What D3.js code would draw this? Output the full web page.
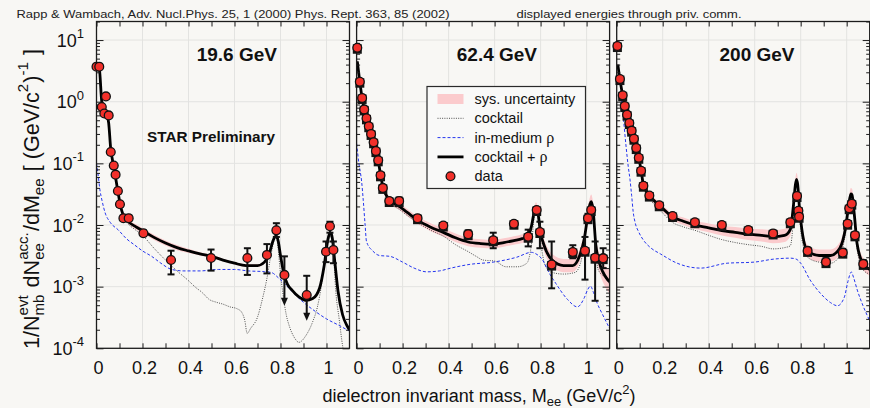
<!DOCTYPE html>
<html>
<head>
<meta charset="utf-8">
<script src="https://cdn.jsdelivr.net/npm/d3@7"></script>
<style>
  body { margin: 0; background: #f8f7f4; }
  svg { display: block; }
</style>
</head>
<body>
<svg id="chart" width="870" height="408"></svg>
<script>
// ---------------- data ----------------
const energyLabels = ["19.6 GeV", "62.4 GeV", "200 GeV"];
const xTickValues = [0, 0.2, 0.4, 0.6, 0.8, 1];
const yDecades = [1e-4, 1e-3, 1e-2, 1e-1, 1e0, 1e1];
const yDecadeExps = ["-4", "-3", "-2", "-1", "0", "1"];

// 19.6 GeV measured points (GeV/c^2, yield, stat. high, stat. low, upper-limit flag)
const mass19  = [0, 0.012, 0.023, 0.034, 0.041, 0.053, 0.062, 0.075, 0.083, 0.093, 0.102, 0.117, 0.14, 0.204, 0.324, 0.498, 0.656, 0.741, 0.782, 0.817, 0.914, 0.998, 1.015, 1.03];
const yield19 = [3.7, 3.7, 0.82, 0.645, 1.22, 0.6, 0.153, 0.092, 0.0655, 0.0356, 0.0217, 0.0129, 0.0129, 0.00734, 0.00271, 0.00292, 0.00292, 0.00327, 0.0082, 0.00155, 0.00073, 0.00369, 0.00953, 0.00394];
const hi19    = [3.95, 3.95, 0.88, 0.69, 1.31, 0.64, 0.165, 0.099, 0.071, 0.039, 0.0237, 0.0141, 0.0141, 0.0082, 0.00383, 0.004, 0.0042, 0.0049, 0.0107, 0.0031, 0.0015, 0.0054, 0.0113, 0.0054];
const lo19    = [3.45, 3.45, 0.76, 0.6, 1.13, 0.56, 0.141, 0.085, 0.06, 0.0326, 0.0197, 0.0117, 0.0117, 0.0066, 0.00158, 0.00182, 0.00155, 0.00164, 0.0064, 0.00049, 0.00028, 0.0025, 0.0075, 0.0024];
const limit19 = [0,0,0,0,0,0,0,0,0,0,0,0,0,0,0,0,0,0,0,1,1,0,0,0];

// 19.6 GeV model curves
const sum19Mass = [0, 0.012, 0.023, 0.034, 0.045, 0.053, 0.062, 0.07, 0.08, 0.09, 0.1, 0.11, 0.12, 0.14, 0.17, 0.2, 0.25, 0.3, 0.35, 0.4, 0.45, 0.5, 0.55, 0.6, 0.65, 0.7, 0.73, 0.75, 0.765, 0.775, 0.782, 0.79, 0.8, 0.815, 0.83, 0.85, 0.88, 0.91, 0.94, 0.97, 0.99, 1.005, 1.015, 1.02, 1.025, 1.035, 1.05, 1.07, 1.09, 1.1];
const sum19     = [3.8, 3.5, 1.0, 0.75, 0.62, 0.45, 0.17, 0.11, 0.068, 0.041, 0.025, 0.017, 0.0135, 0.0112, 0.0094, 0.0081, 0.0063, 0.0051, 0.0043, 0.0038, 0.0034, 0.0031, 0.0027, 0.0024, 0.0022, 0.0022, 0.0025, 0.0033, 0.0052, 0.0064, 0.0066, 0.0055, 0.0032, 0.0016, 0.0011, 0.00088, 0.00068, 0.0006, 0.00064, 0.00095, 0.0022, 0.0055, 0.0075, 0.0074, 0.0062, 0.0028, 0.00085, 0.00035, 0.00023, 0.0002];
const sys19     = [0.05, 0.05, 0.05, 0.05, 0.05, 0.05, 0.05, 0.05, 0.05, 0.05, 0.05, 0.05, 0.06, 0.08, 0.1, 0.1, 0.1, 0.1, 0.1, 0.08, 0.06, 0.05, 0.05, 0.05, 0.05, 0.05, 0.05, 0.05, 0.05, 0.05, 0.05, 0.05, 0.05, 0.05, 0.05, 0.05, 0.05, 0.05, 0.05, 0.05, 0.05, 0.05, 0.05, 0.05, 0.05, 0.05, 0.05, 0.05, 0.05, 0.05];
const cocktail19Mass = [0, 0.012, 0.023, 0.034, 0.045, 0.053, 0.062, 0.07, 0.08, 0.09, 0.1, 0.11, 0.12, 0.14, 0.17, 0.2, 0.25, 0.3, 0.35, 0.4, 0.43, 0.46, 0.49, 0.52, 0.55, 0.58, 0.61, 0.63, 0.645, 0.655, 0.67, 0.7, 0.72, 0.74, 0.76, 0.775, 0.782, 0.79, 0.8, 0.81, 0.825, 0.84, 0.86, 0.88, 0.91, 0.94, 0.96, 0.98, 0.99, 1.005, 1.015, 1.02, 1.03, 1.04, 1.055, 1.07, 1.085];
const cocktail19     = [3.8, 3.5, 1.0, 0.75, 0.62, 0.45, 0.17, 0.11, 0.068, 0.041, 0.025, 0.016, 0.0125, 0.0102, 0.0083, 0.0068, 0.0042, 0.0027, 0.0018, 0.00125, 0.00098, 0.0008, 0.00062, 0.00056, 0.00052, 0.00047, 0.00044, 0.00039, 0.00028, 0.000175, 0.00021, 0.00032, 0.0006, 0.0013, 0.0035, 0.006, 0.0063, 0.004, 0.0016, 0.0008, 0.00035, 0.00022, 0.00015, 0.000125, 0.00016, 0.00027, 0.00046, 0.0012, 0.0024, 0.0052, 0.0065, 0.0064, 0.0035, 0.00088, 0.0003, 0.00011, 0.00006];
const rho19Mass = [0, 0.006, 0.015, 0.025, 0.037, 0.06, 0.095, 0.13, 0.167, 0.2, 0.24, 0.28, 0.327, 0.38, 0.45, 0.53, 0.6, 0.66, 0.73, 0.76, 0.79, 0.83, 0.89, 0.95, 1.0, 1.05, 1.1];
const rho19     = [0.1, 0.07, 0.037, 0.024, 0.016, 0.011, 0.0083, 0.006, 0.0047, 0.0038, 0.0031, 0.0024, 0.0019, 0.0018, 0.0018, 0.0019, 0.0019, 0.0018, 0.00175, 0.0017, 0.0014, 0.001, 0.0006, 0.0004, 0.0003, 0.00024, 0.00019];

// 62.4 GeV measured points
const mass62  = [0.003, 0.014, 0.024, 0.033, 0.043, 0.053, 0.063, 0.074, 0.084, 0.094, 0.104, 0.114, 0.142, 0.185, 0.265, 0.377, 0.485, 0.594, 0.684, 0.746, 0.783, 0.797, 0.848, 0.94, 0.993, 1.006, 1.02, 1.037, 1.072];
const yield62 = [7.5, 2.11, 1.15, 0.75, 0.537, 0.4, 0.3, 0.22, 0.158, 0.112, 0.064, 0.04, 0.0245, 0.0245, 0.0129, 0.0098, 0.0071, 0.00565, 0.0105, 0.00645, 0.0175, 0.0077, 0.00228, 0.00365, 0.00383, 0.0129, 0.0175, 0.00295, 0.0029];
const hi62    = [8.1, 2.3, 1.25, 0.81, 0.58, 0.43, 0.325, 0.24, 0.171, 0.122, 0.07, 0.044, 0.027, 0.028, 0.0142, 0.0108, 0.0082, 0.0075, 0.0116, 0.0084, 0.0195, 0.0113, 0.0054, 0.0047, 0.0064, 0.0152, 0.0195, 0.0054, 0.0042];
const lo62    = [6.9, 1.94, 1.06, 0.69, 0.495, 0.37, 0.277, 0.2, 0.146, 0.103, 0.059, 0.036, 0.0222, 0.0215, 0.0116, 0.0088, 0.0062, 0.0042, 0.0095, 0.0045, 0.0157, 0.0042, 0.00094, 0.00289, 0.0013, 0.011, 0.0157, 0.00059, 0.002];

// 62.4 GeV model curves
const sum62Mass = [0.003, 0.014, 0.024, 0.033, 0.043, 0.053, 0.063, 0.074, 0.084, 0.094, 0.104, 0.114, 0.13, 0.15, 0.185, 0.22, 0.265, 0.32, 0.377, 0.43, 0.485, 0.54, 0.594, 0.64, 0.684, 0.72, 0.746, 0.76, 0.772, 0.78, 0.788, 0.8, 0.815, 0.85, 0.9, 0.94, 0.97, 0.99, 1.005, 1.015, 1.02, 1.028, 1.04, 1.055, 1.07, 1.085, 1.1];
const sum62     = [4.5, 2.1, 1.15, 0.75, 0.54, 0.4, 0.3, 0.22, 0.158, 0.11, 0.066, 0.042, 0.03, 0.024, 0.02, 0.016, 0.012, 0.0093, 0.0076, 0.0062, 0.0053, 0.005, 0.0049, 0.0052, 0.0056, 0.006, 0.0066, 0.0095, 0.016, 0.0195, 0.016, 0.0075, 0.0047, 0.0027, 0.0022, 0.0022, 0.0032, 0.006, 0.014, 0.022, 0.024, 0.018, 0.0048, 0.0025, 0.00175, 0.0014, 0.0012];
const sys62     = [0.1, 0.1, 0.1, 0.1, 0.1, 0.1, 0.1, 0.1, 0.1, 0.1, 0.1, 0.1, 0.12, 0.12, 0.13, 0.14, 0.15, 0.16, 0.17, 0.17, 0.17, 0.17, 0.17, 0.17, 0.17, 0.18, 0.18, 0.2, 0.2, 0.2, 0.2, 0.22, 0.25, 0.27, 0.28, 0.28, 0.28, 0.3, 0.3, 0.3, 0.3, 0.3, 0.35, 0.4, 0.45, 0.5, 0.55];
const cocktail62Mass = [0.003, 0.014, 0.024, 0.033, 0.043, 0.053, 0.063, 0.074, 0.084, 0.094, 0.104, 0.114, 0.13, 0.15, 0.185, 0.22, 0.265, 0.32, 0.377, 0.43, 0.485, 0.52, 0.55, 0.6, 0.65, 0.7, 0.74, 0.76, 0.772, 0.78, 0.788, 0.8, 0.82, 0.85, 0.9, 0.95, 0.98, 1.0, 1.015, 1.02, 1.03, 1.05, 1.08, 1.1];
const cocktail62     = [4.5, 2.1, 1.15, 0.75, 0.54, 0.4, 0.3, 0.22, 0.158, 0.11, 0.064, 0.04, 0.028, 0.022, 0.018, 0.0143, 0.011, 0.0083, 0.0066, 0.0048, 0.0037, 0.0031, 0.0027, 0.0026, 0.0021, 0.0021, 0.0024, 0.0048, 0.013, 0.018, 0.014, 0.0055, 0.0022, 0.0017, 0.0016, 0.0017, 0.003, 0.01, 0.02, 0.022, 0.012, 0.0019, 0.0014, 0.0011];
const rho62Mass = [0, 0.01, 0.022, 0.029, 0.037, 0.043, 0.07, 0.1, 0.145, 0.2, 0.25, 0.304, 0.36, 0.41, 0.493, 0.594, 0.696, 0.76, 0.78, 0.806, 0.84, 0.866, 0.917, 0.96, 0.99, 1.005, 1.017, 1.03, 1.046, 1.07, 1.1];
const rho62     = [0.21, 0.1, 0.05, 0.025, 0.01, 0.0054, 0.0038, 0.0032, 0.0031, 0.0025, 0.002, 0.00174, 0.0018, 0.002, 0.0023, 0.0025, 0.003, 0.0036, 0.0034, 0.0028, 0.0016, 0.00113, 0.00062, 0.00047, 0.00066, 0.0009, 0.00102, 0.0008, 0.00054, 0.00035, 0.00021];

// 200 GeV measured points
const mass200  = [0.003, 0.014, 0.026, 0.035, 0.045, 0.055, 0.065, 0.075, 0.085, 0.096, 0.106, 0.116, 0.142, 0.185, 0.243, 0.34, 0.457, 0.572, 0.68, 0.755, 0.784, 0.79, 0.793, 0.83, 0.91, 0.983, 1.004, 1.011, 1.022, 1.036, 1.072];
const yield200 = [8.0, 2.33, 1.27, 0.85, 0.616, 0.45, 0.339, 0.251, 0.177, 0.123, 0.076, 0.0434, 0.03, 0.0209, 0.014, 0.0111, 0.01, 0.0083, 0.0073, 0.0111, 0.0295, 0.017, 0.0136, 0.0038, 0.0025, 0.00356, 0.0105, 0.0187, 0.0222, 0.0068, 0.00234];
const hi200    = [8.6, 2.5, 1.36, 0.91, 0.66, 0.48, 0.363, 0.269, 0.19, 0.132, 0.082, 0.047, 0.0325, 0.0226, 0.0152, 0.0121, 0.0109, 0.0091, 0.0081, 0.0123, 0.032, 0.0189, 0.015, 0.0043, 0.0029, 0.0041, 0.0117, 0.0205, 0.0243, 0.0077, 0.0027];
const lo200    = [7.4, 2.16, 1.18, 0.79, 0.572, 0.42, 0.315, 0.233, 0.164, 0.114, 0.07, 0.04, 0.0277, 0.0193, 0.0128, 0.0101, 0.0091, 0.0075, 0.0065, 0.0099, 0.0268, 0.0151, 0.0122, 0.0033, 0.0021, 0.0031, 0.0093, 0.0169, 0.0201, 0.0059, 0.002];

// 200 GeV model curves
const sum200Mass = [0.005, 0.014, 0.026, 0.035, 0.045, 0.055, 0.065, 0.075, 0.085, 0.096, 0.106, 0.116, 0.13, 0.142, 0.185, 0.243, 0.29, 0.34, 0.4, 0.457, 0.515, 0.572, 0.63, 0.68, 0.73, 0.755, 0.768, 0.777, 0.782, 0.787, 0.795, 0.805, 0.83, 0.88, 0.93, 0.97, 0.995, 1.008, 1.018, 1.023, 1.033, 1.045, 1.07, 1.1];
const sum200     = [4.0, 2.3, 1.27, 0.85, 0.62, 0.45, 0.34, 0.25, 0.177, 0.123, 0.077, 0.045, 0.035, 0.03, 0.021, 0.0135, 0.0115, 0.01, 0.009, 0.0081, 0.0076, 0.0071, 0.0068, 0.0065, 0.0068, 0.0085, 0.02, 0.045, 0.055, 0.045, 0.018, 0.0085, 0.0038, 0.0032, 0.0032, 0.0042, 0.009, 0.02, 0.032, 0.031, 0.015, 0.005, 0.0024, 0.0019];
const sys200     = [0.1, 0.1, 0.1, 0.1, 0.1, 0.1, 0.1, 0.1, 0.1, 0.1, 0.1, 0.1, 0.1, 0.1, 0.12, 0.13, 0.15, 0.16, 0.18, 0.2, 0.22, 0.24, 0.26, 0.28, 0.28, 0.28, 0.28, 0.28, 0.28, 0.28, 0.25, 0.25, 0.25, 0.25, 0.25, 0.25, 0.25, 0.25, 0.25, 0.25, 0.25, 0.25, 0.25, 0.25];
const cocktail200 = [4.0, 2.3, 1.27, 0.85, 0.62, 0.45, 0.34, 0.25, 0.177, 0.123, 0.074, 0.042, 0.032, 0.027, 0.018, 0.011, 0.0093, 0.0082, 0.0068, 0.0058, 0.0052, 0.0048, 0.0045, 0.0041, 0.0043, 0.0046, 0.012, 0.042, 0.05, 0.04, 0.014, 0.006, 0.003, 0.0025, 0.0024, 0.0032, 0.0075, 0.018, 0.029, 0.028, 0.013, 0.0042, 0.0019, 0.0016];
const rho200Mass = [0.02, 0.03, 0.04, 0.05, 0.058, 0.065, 0.072, 0.08, 0.095, 0.116, 0.15, 0.19, 0.263, 0.365, 0.48, 0.597, 0.684, 0.757, 0.78, 0.8, 0.84, 0.887, 0.93, 0.96, 0.99, 1.005, 1.02, 1.03, 1.046, 1.07, 1.1];
const rho200     = [1.1, 0.5, 0.2, 0.09, 0.054, 0.03, 0.016, 0.011, 0.0078, 0.0057, 0.0042, 0.0034, 0.0024, 0.002, 0.0024, 0.0025, 0.0028, 0.0029, 0.0028, 0.0024, 0.0013, 0.00077, 0.00055, 0.00049, 0.00068, 0.0012, 0.00173, 0.0014, 0.00088, 0.0005, 0.00028];

// ---------------- layout ----------------
const W = 870, H = 408;
const FONT = "'Liberation Sans', Arial, Helvetica, sans-serif";
const PLOT_LEFT = 96.5, PANEL_W = 253, PANEL_GAP = 7.1;
const PLOT_TOP = 21.5, PLOT_BOTTOM = 348.3;
const C = {
  bg: "#f8f7f4", grid: "#e3e3e1", frame: "#1c1c1c", band: "#fbcbcd",
  total: "#000", cocktail: "#3a3a3a", rho: "#2435ee",
  dotFill: "#f2302a", dotStroke: "#111"
};

const zip = (ms, vs) => ms.map((m, i) => ({ m, v: vs[i] }));

const panels = [
  { title: energyLabels[0],
    pts: { m: mass19, y: yield19, hi: hi19, lo: lo19, lim: limit19 },
    total: zip(sum19Mass, sum19).map((d, i) => ({ ...d, r: sys19[i] })),
    cocktail: zip(cocktail19Mass, cocktail19), rho: zip(rho19Mass, rho19), boxes: false },
  { title: energyLabels[1],
    pts: { m: mass62, y: yield62, hi: hi62, lo: lo62, lim: null },
    total: zip(sum62Mass, sum62).map((d, i) => ({ ...d, r: sys62[i] })),
    cocktail: zip(cocktail62Mass, cocktail62), rho: zip(rho62Mass, rho62), boxes: true },
  { title: energyLabels[2],
    pts: { m: mass200, y: yield200, hi: hi200, lo: lo200, lim: null },
    total: zip(sum200Mass, sum200).map((d, i) => ({ ...d, r: sys200[i] })),
    cocktail: zip(sum200Mass, cocktail200), rho: zip(rho200Mass, rho200), boxes: true }
];

const svg = d3.select("#chart");
svg.append("rect").attr("width", W).attr("height", H).attr("fill", C.bg);

// header line
svg.append("text").attr("x", 16.5).attr("y", 17.5)
  .attr("font-family", FONT).attr("font-size", 11.5).attr("fill", "#222")
  .attr("textLength", 433).attr("lengthAdjust", "spacingAndGlyphs")
  .text("Rapp & Wambach, Adv. Nucl.Phys. 25, 1 (2000) Phys. Rept. 363, 85 (2002)");
svg.append("text").attr("x", 516.5).attr("y", 17.5)
  .attr("font-family", FONT).attr("font-size", 11.5).attr("fill", "#222")
  .attr("textLength", 225).attr("lengthAdjust", "spacingAndGlyphs")
  .text("displayed energies through priv. comm.");

const y = d3.scaleLog().domain([1e-4, 20]).range([PLOT_BOTTOM, PLOT_TOP]);
const minorY = [];
yDecades.forEach(d => { for (let k = 2; k <= 9; k++) { const v = d * k; if (v <= 20) minorY.push(v); } });
const xTen = d3.range(0, 11).map(i => i / 10);

panels.forEach((p, i) => {
  const x0 = PLOT_LEFT + i * (PANEL_W + PANEL_GAP);
  const x = d3.scaleLinear().domain([0, 1.1]).range([x0, x0 + PANEL_W]);
  const g = svg.append("g");

  const clipId = "clip" + i;
  svg.append("clipPath").attr("id", clipId).append("rect")
    .attr("x", x0).attr("y", PLOT_TOP).attr("width", PANEL_W).attr("height", PLOT_BOTTOM - PLOT_TOP);

  // grid
  g.selectAll(".gx").data(xTickValues.filter(v => v > 0)).join("line")
    .attr("x1", d => x(d)).attr("x2", d => x(d)).attr("y1", PLOT_TOP).attr("y2", PLOT_BOTTOM)
    .attr("stroke", C.grid).attr("stroke-width", 1);
  g.selectAll(".gy").data(yDecades.filter(v => v > 1e-4)).join("line")
    .attr("x1", x0).attr("x2", x0 + PANEL_W).attr("y1", d => y(d)).attr("y2", d => y(d))
    .attr("stroke", C.grid).attr("stroke-width", 1);

  const plot = g.append("g").attr("clip-path", `url(#${clipId})`);
  const line = d3.line().x(d => x(d.m)).y(d => y(d.v)).curve(d3.curveMonotoneX);

  // systematic band around cocktail + rho
  plot.append("path").datum(p.total)
    .attr("d", d3.area().x(d => x(d.m)).y0(d => y(d.v / (1 + d.r))).y1(d => y(d.v * (1 + d.r))).curve(d3.curveMonotoneX))
    .attr("fill", C.band).attr("stroke", "none");

  plot.append("path").datum(p.cocktail).attr("d", line)
    .attr("fill", "none").attr("stroke", C.cocktail).attr("stroke-width", 0.9).attr("stroke-dasharray", "1,1.3");
  plot.append("path").datum(p.rho).attr("d", line)
    .attr("fill", "none").attr("stroke", C.rho).attr("stroke-width", 1).attr("stroke-dasharray", "3,2");
  plot.append("path").datum(p.total).attr("d", line)
    .attr("fill", "none").attr("stroke", C.total).attr("stroke-width", 2.8).attr("stroke-linejoin", "round");

  // frame
  g.append("rect").attr("x", x0).attr("y", PLOT_TOP).attr("width", PANEL_W).attr("height", PLOT_BOTTOM - PLOT_TOP)
    .attr("fill", "none").attr("stroke", C.frame).attr("stroke-width", 1.3);

  // inward ticks on all four sides
  const tickStyle = sel => { sel.select(".domain").remove(); sel.selectAll("line").attr("stroke", C.frame).attr("stroke-width", 1); };
  g.append("g").attr("transform", `translate(0,${PLOT_BOTTOM})`)
    .call(d3.axisBottom(x).tickValues(xTen).tickSize(-5).tickFormat("")).call(tickStyle);
  g.append("g").attr("transform", `translate(0,${PLOT_TOP})`)
    .call(d3.axisTop(x).tickValues(xTen).tickSize(-5).tickFormat("")).call(tickStyle);
  g.append("g").attr("transform", `translate(${x0},0)`)
    .call(d3.axisLeft(y).tickValues(yDecades).tickSize(-7).tickFormat("")).call(tickStyle);
  g.append("g").attr("transform", `translate(${x0},0)`)
    .call(d3.axisLeft(y).tickValues(minorY).tickSize(-3.5).tickFormat("")).call(tickStyle);
  g.append("g").attr("transform", `translate(${x0 + PANEL_W},0)`)
    .call(d3.axisRight(y).tickValues(yDecades).tickSize(-7).tickFormat("")).call(tickStyle);
  g.append("g").attr("transform", `translate(${x0 + PANEL_W},0)`)
    .call(d3.axisRight(y).tickValues(minorY).tickSize(-3.5).tickFormat("")).call(tickStyle);

  // x tick labels
  const xl = g.append("g").attr("transform", `translate(0,${PLOT_BOTTOM})`)
    .call(d3.axisBottom(x).tickValues(xTickValues).tickSize(0).tickFormat(d3.format("~g")));
  xl.select(".domain").remove();
  xl.attr("font-family", FONT).attr("font-size", 18);
  xl.selectAll("text").attr("y", 25.5).attr("dy", null).attr("dx", 1.5).attr("fill", "#111");

  // y tick labels (left panel only)
  if (i === 0) {
    const yl = g.append("g").attr("transform", `translate(${x0},0)`)
      .call(d3.axisLeft(y).tickValues(yDecades).tickSize(0).tickPadding(12.5).tickFormat(""));
    yl.select(".domain").remove();
    yl.attr("font-family", FONT).attr("font-size", 18);
    yl.selectAll("text").attr("fill", "#111").attr("dy", null).attr("y", 6)
      .each(function (d, k) {
        const t = d3.select(this);
        t.append("tspan").text("10");
        t.append("tspan").attr("dy", -8.5).attr("font-size", 13).text(yDecadeExps[k]);
      });
  }

  // panel title
  g.append("text").attr("x", x(0.61)).attr("y", 60.5).attr("text-anchor", "middle")
    .attr("font-family", FONT).attr("font-weight", "bold").attr("font-size", 19).attr("fill", "#111")
    .text(p.title);

  // data: error bars, sys boxes, markers
  const pts = p.pts.m.map((m, k) => ({ m, v: p.pts.y[k], hi: p.pts.hi[k], lo: p.pts.lo[k], lim: p.pts.lim ? p.pts.lim[k] : 0 }));
  const eb = g.append("g").attr("stroke", "#111").attr("stroke-width", 2).attr("fill", "none");
  pts.forEach(d => {
    const cx = x(d.m);
    if (d.lim) {
      eb.append("line").attr("x1", cx).attr("x2", cx).attr("y1", y(d.hi)).attr("y2", y(d.lo) - 6);
      eb.append("line").attr("x1", cx - 3.5).attr("x2", cx + 3.5).attr("y1", y(d.hi)).attr("y2", y(d.hi));
      g.append("path").attr("d", `M${cx - 3.5},${y(d.lo) - 8}L${cx + 3.5},${y(d.lo) - 8}L${cx},${y(d.lo)}Z`).attr("fill", "#111");
    } else {
      eb.append("line").attr("x1", cx).attr("x2", cx).attr("y1", y(d.hi)).attr("y2", y(d.lo));
      eb.append("line").attr("x1", cx - 3.5).attr("x2", cx + 3.5).attr("y1", y(d.hi)).attr("y2", y(d.hi));
      eb.append("line").attr("x1", cx - 3.5).attr("x2", cx + 3.5).attr("y1", y(d.lo)).attr("y2", y(d.lo));
    }
  });
  if (p.boxes) {
    g.append("g").selectAll("rect").data(pts).join("rect")
      .attr("x", d => x(d.m) - 4.5).attr("y", d => y(d.v) - 3.5).attr("width", 9).attr("height", 9.5)
      .attr("fill", "#151515");
  }
  g.append("g").selectAll("circle").data(pts).join("circle")
    .attr("cx", d => x(d.m)).attr("cy", d => y(d.v)).attr("r", 4.4)
    .attr("fill", C.dotFill).attr("stroke", C.dotStroke).attr("stroke-width", 1.3);

  if (i === 0) {
    g.append("text").attr("x", 147).attr("y", 141.5)
      .attr("font-family", FONT).attr("font-weight", "bold").attr("font-size", 15.3).attr("fill", "#111")
      .text("STAR Preliminary");
  }

  // legend in the middle panel
  if (i === 1) {
    const lg = svg.append("g").attr("font-family", FONT).attr("font-size", 14.5).attr("fill", "#111");
    lg.append("rect").attr("x", 427).attr("y", 86.5).attr("width", 158.5).attr("height", 102)
      .attr("fill", "#f9f9f8").attr("stroke", "#2a2a2a").attr("stroke-width", 1.2);
    const rows = [99, 118.3, 137.6, 156.9, 176.2];
    const sx0 = 437.5, sx1 = 463.5, tx = 474.5;
    lg.append("rect").attr("x", sx0).attr("y", rows[0] - 5).attr("width", sx1 - sx0).attr("height", 10).attr("fill", C.band);
    lg.append("line").attr("x1", sx0).attr("x2", sx1).attr("y1", rows[1]).attr("y2", rows[1])
      .attr("stroke", C.cocktail).attr("stroke-width", 0.9).attr("stroke-dasharray", "1,1.3");
    lg.append("line").attr("x1", sx0).attr("x2", sx1).attr("y1", rows[2]).attr("y2", rows[2])
      .attr("stroke", C.rho).attr("stroke-width", 1).attr("stroke-dasharray", "3,2");
    lg.append("line").attr("x1", sx0).attr("x2", sx1).attr("y1", rows[3]).attr("y2", rows[3])
      .attr("stroke", C.total).attr("stroke-width", 2.8);
    lg.append("circle").attr("cx", (sx0 + sx1) / 2).attr("cy", rows[4]).attr("r", 4.4)
      .attr("fill", C.dotFill).attr("stroke", C.dotStroke).attr("stroke-width", 1.3);
    const labels = [["sys. uncertainty"], ["cocktail"], ["in-medium ", "ρ"], ["cocktail + ", "ρ"], ["data"]];
    labels.forEach((parts, k) => {
      const t = lg.append("text").attr("x", tx).attr("y", rows[k] + 5);
      t.append("tspan").text(parts[0]);
      if (parts[1]) t.append("tspan").attr("font-family", "'Liberation Serif', 'DejaVu Serif', serif").attr("font-size", 16).text(parts[1]);
    });
  }
});

// x axis title
const xt = svg.append("text").attr("x", 479).attr("y", 401.5).attr("text-anchor", "middle")
  .attr("font-family", FONT).attr("font-size", 18).attr("fill", "#111");
xt.append("tspan").text("dielectron invariant mass, M");
xt.append("tspan").attr("font-size", 13).attr("dy", 4.5).text("ee");
xt.append("tspan").attr("dy", -4.5).text(" (GeV/c");
xt.append("tspan").attr("font-size", 13).attr("dy", -8).text("2");
xt.append("tspan").attr("dy", 8).text(")");

// y axis title, laid out piece by piece and rotated
(function () {
  const main = 20, small = 14, up = -10, down = 5.5;
  const pieces = [
    { t: "1/N" }, { sub: "mb", sup: "evt" }, { t: " dN" }, { sub: "ee", sup: "acc." },
    { t: "/dM" }, { sub: "ee" }, { t: " [ (GeV/c" }, { sup: "2" }, { t: ")" }, { sup: "-1" }, { t: " ]" }
  ];
  const grp = svg.append("g").attr("font-family", FONT).attr("fill", "#111");
  const inner = grp.append("g");
  let cx = 0;
  pieces.forEach(pc => {
    if (pc.t) {
      const el = inner.append("text").attr("x", cx).attr("y", 0).attr("font-size", main).attr("xml:space", "preserve").text(pc.t);
      cx += el.node().getComputedTextLength();
    } else {
      let w = 0;
      if (pc.sub) {
        const el = inner.append("text").attr("x", cx).attr("y", down).attr("font-size", small).text(pc.sub);
        w = Math.max(w, el.node().getComputedTextLength());
      }
      if (pc.sup) {
        const el = inner.append("text").attr("x", cx).attr("y", up).attr("font-size", small).text(pc.sup);
        w = Math.max(w, el.node().getComputedTextLength());
      }
      cx += w + 1;
    }
  });
  const target = 300;
  const s = target / cx;
  grp.attr("transform", `translate(38.5,349) rotate(-90) scale(${s})`);
})();
</script>
</body>
</html>
